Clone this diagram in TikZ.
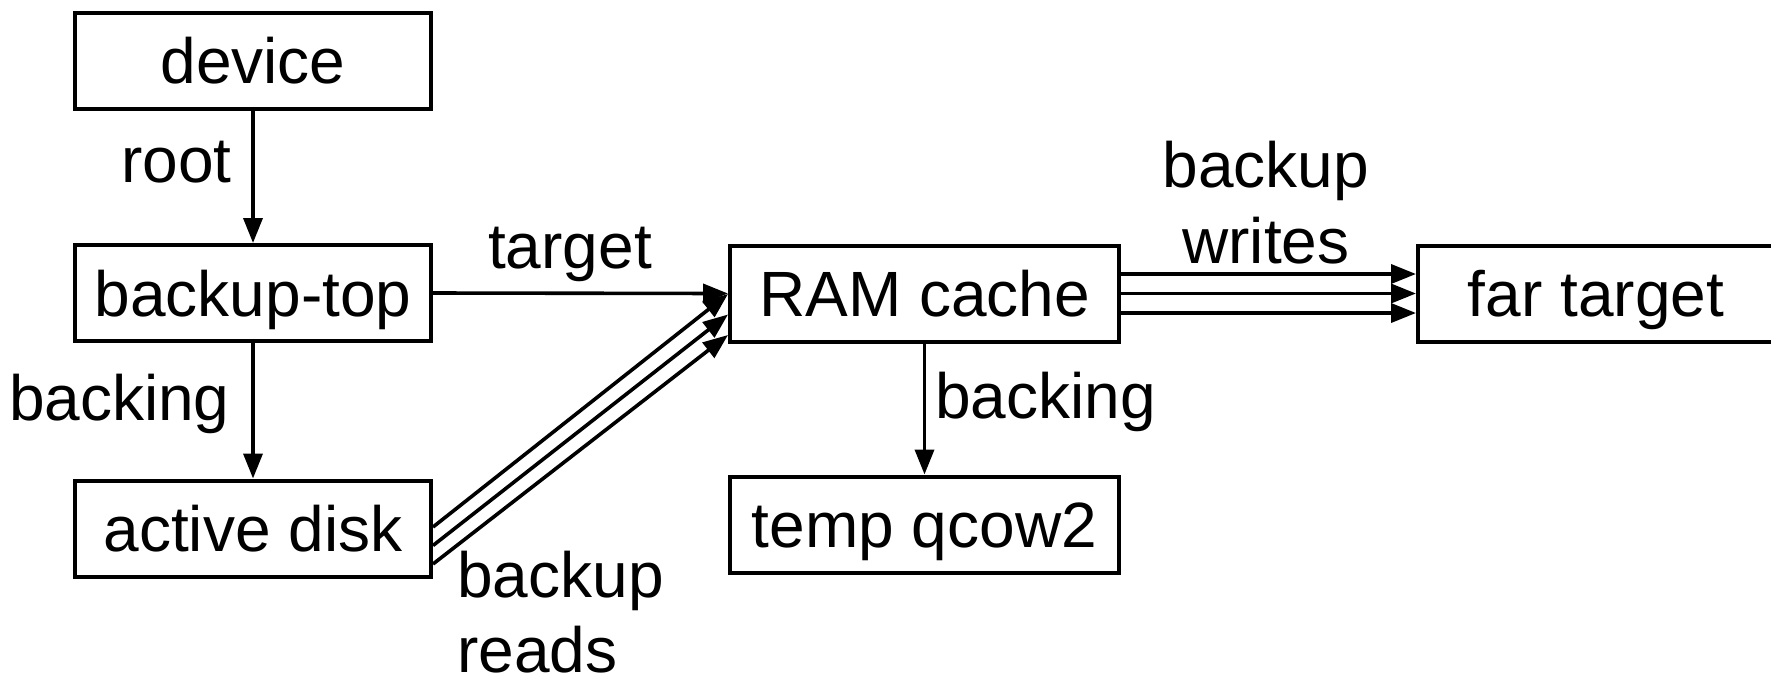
\documentclass[tikz,border=0pt]{standalone}
\usepackage{fontspec}
\setmainfont{Liberation Sans}
\usetikzlibrary{arrows.meta,calc}
\begin{document}
\begin{tikzpicture}[x=0.5pt,y=-0.5pt,
  box/.style={draw,line width=2pt,inner sep=0pt,minimum width=178pt,minimum height=48pt,
    text height=24pt,text depth=1pt,font=\fontsize{32}{38}\selectfont},
  widebox/.style={box,minimum width=194.5pt},
  lbl/.style={inner sep=0pt,font=\fontsize{32}{38}\selectfont},
  conn/.style={line width=1.8pt,-{Triangle[length=12.5pt,width=9.5pt]}}]
\useasboundingbox (0,0) rectangle (1771,676);
\clip (0,0) rectangle (1771,676);
\node[box] (dev) at (253,60.5) {device};
\node[box] (top) at (253,293) {backup-top};
\node[box] (act) at (253,528.5) {active disk};
\node[widebox] (ram) at (924.5,293.5) {RAM cache};
\node[widebox] (tmp) at (924.5,524.5) {temp qcow2};
\node[box] (far) at (1596,293.5) {far target};
% labels
\node[lbl,anchor=base east] (lroot) at (232,182) {root};
\node[lbl,anchor=base east] (lback1) at (230,420) {backing};
\node[lbl,anchor=base] (ltarget) at (570,268) {target};
\node[lbl,anchor=base] (lw1) at (1266,187) {backup};
\node[lbl,anchor=base] (lw2) at (1266,263) {writes};
\node[lbl,anchor=base west] (lr1) at (457,597) {backup};
\node[lbl,anchor=base west] (lr2) at (457,672) {reads};
\node[lbl,anchor=base west] (lback2) at (935,418) {backing};
% connectors
\draw[conn] (dev.south) -- (top.north);
\draw[conn] (top.south) -- (act.north);
\draw[conn] (top.east) -- (ram.west);
\draw[conn] (ram.south) -- (tmp.north);
\draw[conn] ($(act.east)+(0,-1.5)$) -- ($(ram.west)+(0,0.5)$);
\draw[conn] ($(act.east)+(0,17)$) -- ($(ram.west)+(0,21)$);
\draw[conn] ($(act.east)+(0,35.5)$) -- ($(ram.west)+(0,41.5)$);
\draw[conn] ($(ram.east)+(0,-19.5)$) -- ($(far.west)+(0,-19.5)$);
\draw[conn] (ram.east) -- (far.west);
\draw[conn] ($(ram.east)+(0,19.5)$) -- ($(far.west)+(0,19.5)$);
\end{tikzpicture}
\end{document}
